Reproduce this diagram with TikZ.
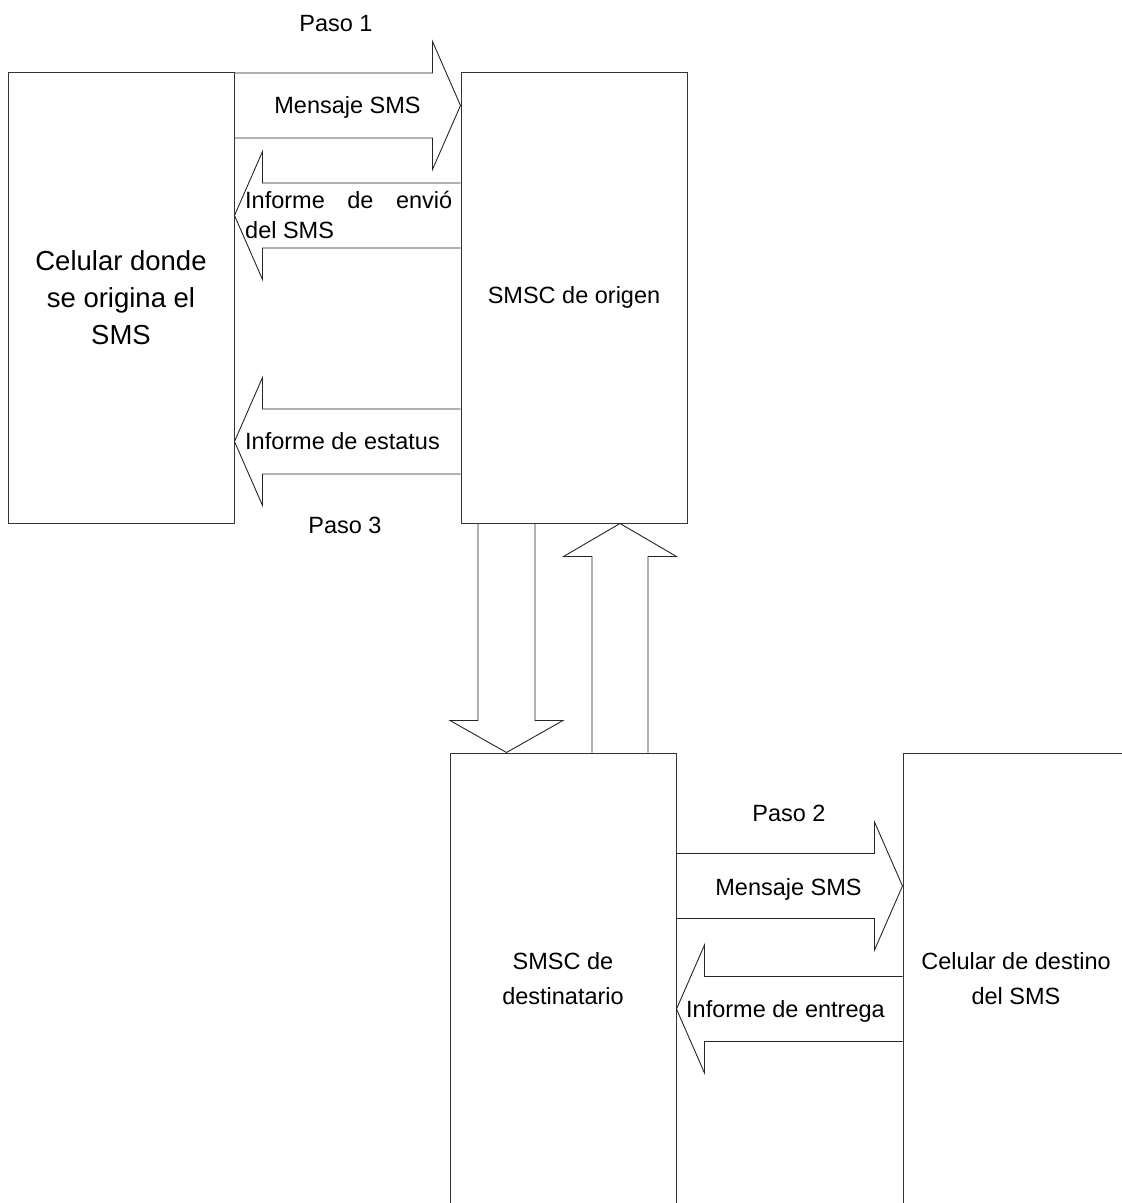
\documentclass[tikz,border=0pt]{standalone}
\usepackage{fontspec}
\setmainfont{Liberation Sans}
\usetikzlibrary{calc}

\tikzset{
  box/.style={draw=black!80, line width=1pt, minimum width=226pt, minimum height=451pt,
    inner sep=0pt, align=center, font=\fontsize{23.5}{35}\selectfont},
  blockarrow/.style={draw=black!85, line width=0.9pt},
  lbl/.style={inner sep=0pt, font=\fontsize{23.5}{30}\selectfont},
}

% block arrows: shaft from one box to the other at height/abscissa #3
\newcommand{\rblock}[3]{%
  \coordinate (s) at (#1.east |- 0,#3);
  \coordinate (t) at (#2.west |- 0,#3);
  \draw[blockarrow] ($(s)+(0,-32.5)$) -- ($(t)+(-28,-32.5)$) -- ($(t)+(-28,-64)$) -- (t)
    -- ($(t)+(-28,64)$) -- ($(t)+(-28,32.5)$) -- ($(s)+(0,32.5)$);}
\newcommand{\lblock}[3]{%
  \coordinate (s) at (#1.west |- 0,#3);
  \coordinate (t) at (#2.east |- 0,#3);
  \draw[blockarrow] ($(s)+(0,-32.5)$) -- ($(t)+(28,-32.5)$) -- ($(t)+(28,-64)$) -- (t)
    -- ($(t)+(28,64)$) -- ($(t)+(28,32.5)$) -- ($(s)+(0,32.5)$);}
\newcommand{\dblock}[3]{%
  \coordinate (s) at (#3,0 |- #1.south);
  \coordinate (t) at (#3,0 |- #2.north);
  \draw[blockarrow] ($(s)+(-28.5,0)$) -- ($(t)+(-28.5,-32)$) -- ($(t)+(-56.5,-32)$) -- (t)
    -- ($(t)+(56.5,-32)$) -- ($(t)+(28.5,-32)$) -- ($(s)+(28.5,0)$);}
\newcommand{\ublock}[3]{%
  \coordinate (s) at (#3,0 |- #1.north);
  \coordinate (t) at (#3,0 |- #2.south);
  \draw[blockarrow] ($(s)+(-28,0)$) -- ($(t)+(-28,33)$) -- ($(t)+(-56.5,33)$) -- (t)
    -- ($(t)+(56.5,33)$) -- ($(t)+(28,33)$) -- ($(s)+(28,0)$);}

\begin{document}
\begin{tikzpicture}[x=1pt,y=-1pt]
\useasboundingbox (0,0) rectangle (1122,1203);
\clip (0,0) rectangle (1122,1203);
% Boxes
\node[box, font=\fontsize{27.5}{37}\selectfont] (celorig) at (121,297.5) {Celular donde\\se origina el\\SMS};
\node[box] (origen) at (574,297.5) {SMSC de origen};
\node[box] (destin) at (563,978.5) {SMSC de\\destinatario};
\node[box] (celdest) at (1016,978.5) {Celular de destino\\del SMS};
% Paso 1
\rblock{celorig}{origen}{105.5}
\lblock{origen}{celorig}{215.5}
\node[lbl, anchor=base] (paso1) at (336,31) {Paso 1};
\node[lbl, anchor=base] (msg1) at (347.5,113) {Mensaje SMS};
\node[lbl, anchor=base west, align=left] (envio) at (245,238)
  {\makebox[207pt][s]{Informe de envió}\\del SMS};
% Paso 3
\lblock{origen}{celorig}{441.5}
\node[lbl, anchor=base west] (estatus) at (245,449) {Informe de estatus};
\node[lbl, anchor=base] (paso3) at (345,533) {Paso 3};
% Between SMSCs
\dblock{origen}{destin}{506.5}
\ublock{destin}{origen}{620}
% Paso 2
\rblock{destin}{celdest}{886}
\lblock{celdest}{destin}{1009}
\node[lbl, anchor=base] (paso2) at (789,821) {Paso 2};
\node[lbl, anchor=base] (msg2) at (788.5,895) {Mensaje SMS};
\node[lbl, anchor=base west] (entrega) at (686,1017) {Informe de entrega};
\end{tikzpicture}
\end{document}
